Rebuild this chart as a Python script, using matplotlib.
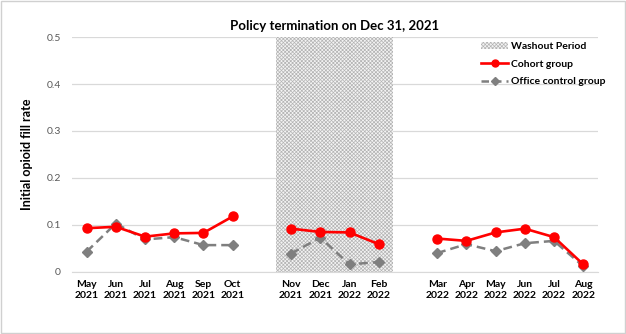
import numpy as np
import matplotlib.pyplot as plt
from matplotlib.patches import Patch, Rectangle
from matplotlib.lines import Line2D

plt.rcParams['font.family'] = ['Lato', 'DejaVu Sans']
plt.rcParams['hatch.linewidth'] = 0.5

# categories, blank strings mark the gaps between periods
months = ['May\n2021', 'Jun\n2021', 'Jul\n2021', 'Aug\n2021', 'Sep\n2021', 'Oct\n2021', '',
          'Nov\n2021', 'Dec\n2021', 'Jan\n2022', 'Feb\n2022', '',
          'Mar\n2022', 'Apr\n2022', 'May\n2022', 'Jun\n2022', 'Jul\n2022', 'Aug\n2022']
nan = np.nan
cohort = [0.093, 0.096, 0.075, 0.082, 0.083, 0.118, nan,
          0.092, 0.085, 0.084, 0.059, nan,
          0.071, 0.066, 0.084, 0.092, 0.074, 0.016]
control = [0.043, 0.103, 0.069, 0.074, 0.057, 0.057, nan,
           0.039, 0.073, 0.016, 0.021, nan,
           0.040, 0.059, 0.044, 0.061, 0.066, 0.012]
washout = ('Nov\n2021', 'Feb\n2022')

fig = plt.figure(figsize=(6.26, 3.34), dpi=100)
ax = fig.add_axes([0.115, 0.186, 0.84, 0.703])
x = np.arange(len(months))

i0, i1 = months.index(washout[0]), months.index(washout[1])
ax.add_patch(Rectangle((i0 - 0.5, 0), i1 - i0 + 1, 0.5, facecolor='#f4f4f4',
                       edgecolor='#b4b4b4', lw=0, hatch='xxxxxxxxx', zorder=1))

ax.plot(x, control, color='#7f7f7f', lw=1.8, ls=(0, (3.5, 2)), marker='D', ms=5.5,
        zorder=3)
ax.plot(x, cohort, color='#ff0000', lw=1.9, marker='o', ms=6.5, zorder=4)

ax.set_xlim(-0.5, len(months) - 0.5)
ax.set_ylim(0, 0.5)
ax.set_yticks([0, 0.1, 0.2, 0.3, 0.4, 0.5])
ax.set_yticklabels(['0', '0.1', '0.2', '0.3', '0.4', '0.5'])
ax.yaxis.grid(True, color='#d9d9d9', lw=0.9, zorder=0)
ax.set_axisbelow(True)
ax.set_xticks(x)
ax.set_xticklabels(months, fontweight='bold', fontsize=7.5, linespacing=1.3)
ax.tick_params(axis='y', length=0, labelsize=7.5, labelcolor='#595959', pad=8)
ax.tick_params(axis='x', length=0, pad=6)
for s in ['top', 'right', 'left']:
    ax.spines[s].set_visible(False)
ax.spines['bottom'].set_color('#d9d9d9')

ax.set_title('Policy termination on Dec 31, 2021', fontsize=9.5, fontweight='bold', pad=5)
ax.set_ylabel('Initial opioid fill rate', fontsize=9, fontweight='bold', labelpad=10)

handles = [Patch(facecolor='#f4f4f4', edgecolor='#b4b4b4', lw=0, hatch='xxxxxxxxx'),
           Line2D([], [], color='#ff0000', lw=1.9, marker='o', ms=5),
           Line2D([], [], color='#7f7f7f', lw=1.8, ls=(0, (3, 2)), marker='D', ms=4.5)]
ax.legend(handles, ['Washout Period', 'Cohort group', 'Office control group'],
          loc='upper left', bbox_to_anchor=(0.76, 1.02), frameon=False,
          prop={'size': 7.5, 'weight': 'bold'}, handlelength=2.6, handletextpad=0.3,
          labelspacing=0.8)

fig.patches.append(Rectangle((0.002, 0.003), 0.996, 0.994, transform=fig.transFigure,
                             fill=False, edgecolor='#d0d0d0', lw=1))
fig.savefig('out.png', dpi=100)
